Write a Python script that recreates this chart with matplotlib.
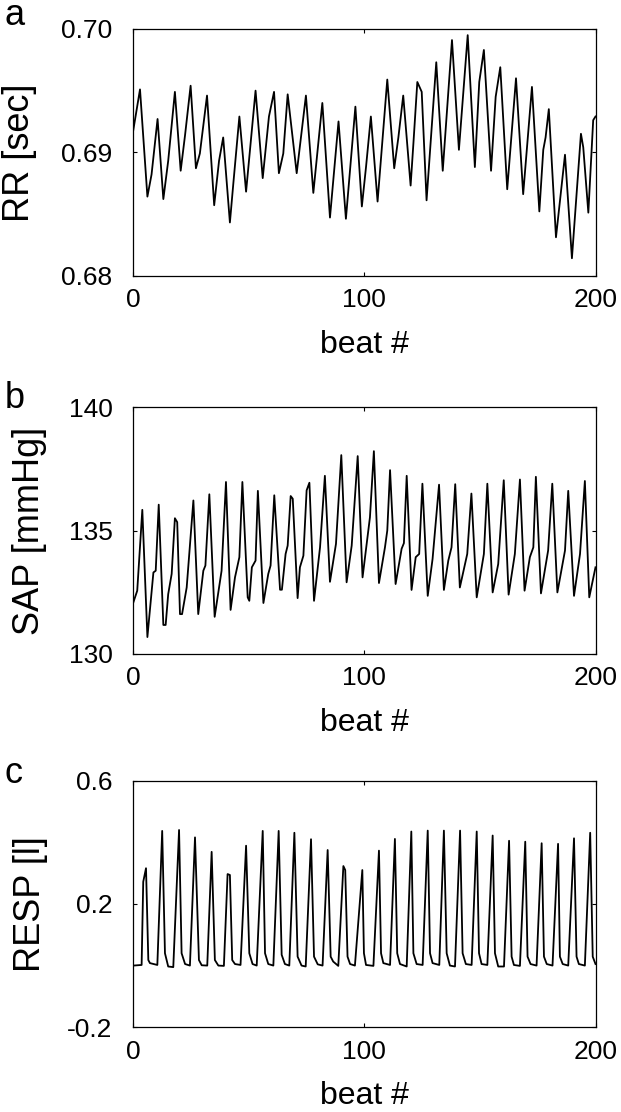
import numpy as np
import matplotlib
matplotlib.use('Agg')
import matplotlib.pyplot as plt

plt.rcParams['font.family'] = ['Liberation Sans', 'DejaVu Sans']

### DATA (key points: beat #, value) ###
# a: RR interval (sec)
rr_beat = [0, 2.9, 6.1, 7.9, 10.5, 13, 15.1, 18, 20.5, 22.4, 24.8, 27.1, 28.8, 31.9, 35,
           37.1, 38.9, 41.8, 43.3, 45.9, 48.8, 52.9, 56, 58.7, 60.9, 63, 64.9, 66.8, 70.7,
           74.7, 77.9, 81.8, 85.1, 88.8, 92, 96.1, 98.9, 100.7, 102.8, 105.7, 109.9, 112.9,
           114.7, 116.8, 120, 121.2, 122.9, 124.8, 126.9, 131.1, 133.9, 137.9, 140.9, 144.7,
           147.8, 149.7, 151.7, 154.8, 156.8, 158.8, 161.8, 165.6, 168.7, 172.5, 175.7, 177.4,
           178.4, 179.8, 182.9, 186.8, 189.8, 193.7, 194.7, 196.9, 199.0, 200]
rr_sec = [0.6918, 0.6951, 0.6864, 0.6882, 0.6927, 0.6862, 0.6893, 0.6949, 0.6885, 0.6914,
          0.6954, 0.6887, 0.6899, 0.6946, 0.6857, 0.6893, 0.6912, 0.6843, 0.6875, 0.6929,
          0.6868, 0.6950, 0.6879, 0.6929, 0.6949, 0.6883, 0.6899, 0.6947, 0.6883, 0.6946,
          0.6867, 0.6940, 0.6847, 0.6925, 0.6846, 0.6937, 0.6856, 0.6888, 0.6929, 0.6860,
          0.6959, 0.6887, 0.6912, 0.6946, 0.6873, 0.6907, 0.6957, 0.6949, 0.6861, 0.6973,
          0.6885, 0.6991, 0.6902, 0.6995, 0.6888, 0.6957, 0.6983, 0.6885, 0.6945, 0.6969,
          0.6870, 0.6960, 0.6866, 0.6953, 0.6852, 0.6902, 0.6912, 0.6935, 0.6831, 0.6898,
          0.6814, 0.6915, 0.6904, 0.6851, 0.6926, 0.6929]

# b: systolic arterial pressure (mmHg)
sap_beat = [0, 1.7, 3.9, 6.1, 8.7, 9.7, 11, 13, 14, 15.1, 16.6, 18, 19, 20.2, 21.1, 23.1, 26,
            28.1, 30.3, 31.2, 32.9, 35.2, 38.2, 40.1, 42.1, 44, 45.9, 47.2, 49.5, 50.2, 51.3,
            52.9, 53.9, 56.3, 58.4, 59.4, 61, 63.5, 64.3, 65.9, 66.8, 68.1, 69, 71.1, 72.1,
            73.6, 75, 76.2, 78.2, 80.8, 82.9, 85.1, 87.7, 90, 92.3, 94.5, 97.1, 99.2, 102.4,
            104.1, 106.3, 108.9, 109.9, 111.1, 113.5, 116.1, 117.1, 118.3, 120.4, 122.2, 123.7,
            125.1, 127.4, 129.5, 132.3, 134.4, 136.3, 137.7, 139.3, 141.3, 144.5, 146.3, 148.6,
            151.7, 153.2, 155.5, 157.9, 160.3, 162.4, 165.1, 167.3, 169.3, 171.6, 173.1, 174.2,
            176.4, 179.5, 181.3, 183.5, 186.8, 188.2, 190.7, 193.3, 195.4, 197.3, 200]
sap_mmhg = [132.08, 132.56, 135.84, 130.68, 133.30, 133.37, 136.05, 131.17, 131.17, 132.42,
            133.24, 135.50, 135.34, 131.61, 131.61, 132.69, 136.22, 131.61, 133.37, 133.58,
            136.47, 131.50, 133.37, 136.97, 131.78, 133.10, 133.92, 136.97, 132.29, 132.15,
            133.51, 133.78, 136.61, 132.06, 133.24, 133.58, 136.43, 132.60, 132.60, 134.05,
            134.39, 136.40, 136.29, 132.26, 133.51, 133.98, 136.63, 136.94, 132.15, 134.32,
            137.22, 132.92, 134.46, 138.06, 132.90, 134.39, 138.02, 133.10, 135.54, 138.22,
            132.87, 134.32, 135.00, 137.45, 132.83, 134.26, 134.49, 137.22, 132.59, 133.92,
            134.05, 136.90, 132.35, 133.85, 136.86, 132.59, 133.78, 134.32, 136.88, 132.69,
            134.05, 136.50, 132.29, 134.05, 136.90, 132.49, 133.64, 137.04, 132.40, 134.05,
            137.07, 132.56, 133.92, 134.32, 137.18, 132.45, 134.19, 136.90, 132.49, 134.19,
            136.61, 132.35, 134.05, 137.01, 132.29, 133.51]

# c: respiration (l)
resp_beat = [0, 3.6, 4.3, 5.5, 6.5, 7.2, 10.4, 12.5, 13.7, 15.1, 17.3, 19.8, 20.9, 22.4, 24.5,
             26.7, 28.4, 29.6, 32.0, 33.9, 35.3, 36.8, 39.2, 40.8, 41.8, 42.8, 44.0, 46.4,
             48.8, 50.2, 51.6, 53.4, 56.0, 57.0, 58.4, 60.6, 62.9, 64.2, 65.6, 67.5,
             69.7, 71.1, 72.8, 74.6, 76.9, 78.2, 79.8, 81.9, 84.1, 85.4, 86.5, 88.7,
             90.9, 91.7, 92.7, 93.8, 95.9, 99.1, 99.8, 100.7, 103.9, 106.3, 107.2, 108.2, 111.1,
             113.2, 114.2, 115.4, 118.3, 120.3, 121.2, 122.6, 125.2, 127.4, 128.4, 129.5, 132.4,
             134.4, 135.6, 137.0, 139.2, 141.4, 142.5, 143.9, 146.4, 148.6, 149.6, 150.7, 153.2,
             155.5, 156.5, 157.9, 160.4, 162.6, 163.7, 164.7, 167.3, 169.6, 170.6, 171.9, 174.5,
             176.7, 177.7, 178.9, 181.4, 183.8, 184.6, 185.8, 188.2, 190.7, 191.8, 192.8, 195.4,
             197.7, 198.8, 200]
resp_l = [0.000, 0.002, 0.272, 0.316, 0.018, 0.008, 0.002, 0.437, 0.040, -0.003, -0.005,
          0.440, 0.040, 0.005, 0.000, 0.416, 0.018, 0.001, 0.000, 0.369, 0.018, 0.000, -0.001,
          0.297, 0.294, 0.018, 0.005, 0.002, 0.389, 0.040, 0.005, 0.000, 0.437, 0.040, 0.005,
          0.000, 0.437, 0.035, 0.005, 0.000, 0.431, 0.029, 0.000, -0.003, 0.410, 0.029, 0.004,
          0.000, 0.375, 0.029, 0.013, -0.001, 0.323, 0.310, 0.029, 0.005, 0.000, 0.310, 0.040,
          0.002, -0.001, 0.373, 0.040, 0.008, 0.002, 0.411, 0.040, 0.005, -0.003, 0.435, 0.040,
          0.005, 0.002, 0.438, 0.040, 0.008, 0.002, 0.438, 0.040, 0.000, -0.003, 0.438, 0.040,
          0.005, 0.002, 0.435, 0.040, 0.005, 0.002, 0.422, 0.040, -0.003, -0.003, 0.405, 0.029,
          0.002, -0.001, 0.402, 0.029, 0.005, 0.000, 0.397, 0.029, 0.005, 0.000, 0.395, 0.029,
          0.005, 0.000, 0.413, 0.029, 0.005, 0.000, 0.431, 0.029, 0.005]

x_ticks = [0, 100, 200]
panels = [
    ('a', rr_beat, rr_sec, 'RR [sec]', (0.68, 0.70), [0.68, 0.69, 0.70], ['0.68', '0.69', '0.70']),
    ('b', sap_beat, sap_mmhg, 'SAP [mmHg]', (130, 140), [130, 135, 140], ['130', '135', '140']),
    ('c', resp_beat, resp_l, 'RESP [l]', (-0.2, 0.6), [-0.2, 0.2, 0.6], ['-0.2', '0.2', '0.6']),
]

### FIGURE ###
W, H = 621, 1112
fig = plt.figure(figsize=(W/100, H/100), dpi=100)
ax_top = [29, 407.3, 780.7]   # px from top of figure
ax_h = 246.5
ax_l, ax_r = 133.3, 595.5
letter_base = [25, 408, 783]
ylab_x = [-0.208, -0.187, -0.184]

for i, (lab, xb, yv, ylab, ylim, yt, ytl) in enumerate(panels):
    ax = fig.add_axes([ax_l/W, 1 - (ax_top[i] + ax_h)/H, (ax_r - ax_l)/W, ax_h/H])
    ax.plot(xb, yv, color='black', lw=1.3, solid_joinstyle='round')
    ax.set_xlim(0, 200)
    ax.set_ylim(*ylim)
    ax.set_xticks(x_ticks)
    ax.set_yticks(yt)
    ax.set_yticklabels(ytl)
    ax.tick_params(direction='in', length=3, width=0.8, top=True, right=True,
                   labelsize=19, colors='black')
    ax.tick_params(axis='x', pad=9)
    ax.tick_params(axis='y', pad=15)
    for s in ax.spines.values():
        s.set_linewidth(0.9)
    ax.set_xlabel('beat #', fontsize=23)
    ax.xaxis.set_label_coords(0.5, -0.22)
    ax.set_ylabel(ylab, fontsize=26)
    ax.yaxis.set_label_coords(ylab_x[i], 0.5)
    fig.text(5/W, 1 - letter_base[i]/H, lab, fontsize=26, va='baseline', ha='left')

fig.savefig('out.png', dpi=100)
